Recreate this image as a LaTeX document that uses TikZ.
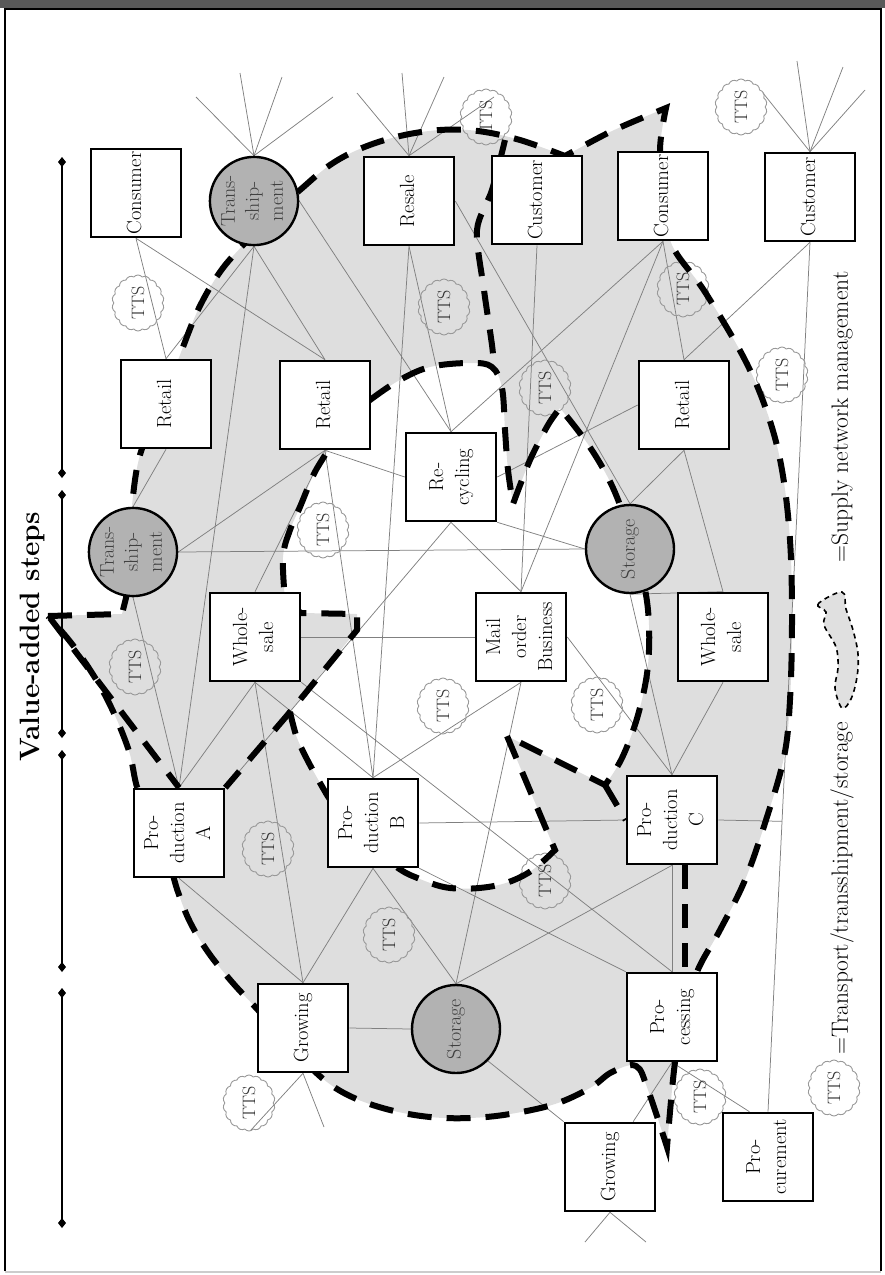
\documentclass[tikz,border=0pt]{standalone}
\usepackage{graphicx}
\usetikzlibrary{shapes.symbols,arrows.meta,calc}
\pgfdeclarelayer{bg}
\pgfsetlayers{bg,main}
\newcommand{\rtx}[1]{\rotatebox{90}{\begin{tabular}{@{}c@{}}#1\end{tabular}}}
\def\outerpath{(48,616) -- (122,614) -- (126,598)
 -- plot[smooth,tension=0.6] coordinates {(126,598) (129,550) (132,505) (140,455) (160,405) (178,360) (198,310) (220,272) (245,243) (275,212) (300,190) (330,165) (362,148) (400,136) (440,130) (478,131) (520,140) (565,156)}
 -- plot[smooth] coordinates {(565,156) (612,131) (666,108)}
 -- plot[smooth,tension=0.6] coordinates {(666,108) (660,150) (665,200) (672,245) (705,292) (745,360) (768,415) (782,470) (790,540) (792,620) (790,700) (784,757) (766,820) (745,880) (720,930) (697,972) (684,1020) (675,1062) (667,1147)}
 -- plot[smooth,tension=0.6] coordinates {(667,1147) (648,1090) (636,1066) (612,1072) (590,1088) (555,1104) (510,1114) (470,1118) (430,1117) (390,1110) (352,1097) (322,1078) (290,1045) (258,1010) (232,982) (208,952) (190,922) (178,892) (170,865) (155,820) (138,790) (128,748) (105,695) (75,648) (48,616)}
 -- cycle}
\def\holepath{(370,400)
 -- plot[smooth,tension=0.6] coordinates {(370,400) (398,381) (430,367) (470,363) (492,367) (502,388) (505,430) (508,470) (513,504)}
 -- plot[smooth] coordinates {(513,504) (530,460) (548,425) (560,408)}
 -- plot[smooth,tension=0.6] coordinates {(560,408) (585,440) (605,472) (620,505) (638,560) (648,610) (648,665) (638,715) (622,758) (605,785)}
 -- (507,736) -- (555,850)
 -- plot[smooth,tension=0.6] coordinates {(555,850) (528,873) (494,886) (450,888) (415,877) (395,866) (360,840) (327,795)}
 -- plot[smooth] coordinates {(327,795) (310,765) (297,738) (290,712)}
 -- (357,630) -- (357,614) -- (301,613) -- (285,600)
 -- plot[smooth,tension=0.6] coordinates {(285,600) (283,557) (290,530) (300,507) (312,478) (322,460) (345,425) (370,400)}
 -- cycle}
\begin{document}
\begin{tikzpicture}[x=1pt,y=-1pt,
  box/.style={draw, line width=2.6pt, fill=white, minimum width=90pt, minimum height=88pt, inner sep=0pt, font=\fontsize{20.5}{26}\selectfont},
  hub/.style={circle, draw, line width=2.4pt, fill=black!30, minimum size=88pt, inner sep=0pt, text=black!75, font=\fontsize{20}{24}\selectfont},
  tts/.style={cloud, cloud puffs=18, cloud puff arc=100, aspect=1, draw=black!40, line width=0.9pt, minimum width=52pt, minimum height=56pt, inner sep=0pt, text=black!80, font=\fontsize{18}{20}\selectfont},
  conn/.style={draw=black!50, line width=0.75pt},
  snm/.style={line width=6pt, dash pattern=on 24pt off 15pt},
  axisseg/.style={line width=2.5pt, {Diamond[length=10pt,width=8pt]}-{Diamond[length=10pt,width=8pt]}},
  legtext/.style={rotate=90, font=\fontsize{23.5}{28}\selectfont}]
\useasboundingbox (0,0) rectangle (885,1275);
% frame
\fill[black!65] (0,0) rectangle (885,8);
\draw[line width=2pt] (4.5,1271) -- (4.5,9) -- (880.5,9) -- (880.5,1271);
\draw[black!20, line width=1.5pt] (4.5,1272) -- (880.5,1272);
% axis
\coordinate (a1) at (62,157); \coordinate (a2) at (62,478);
\coordinate (a3) at (62,490); \coordinate (a4) at (62,738);
\coordinate (a5) at (62,750); \coordinate (a6) at (62,972);
\coordinate (a7) at (62,988); \coordinate (a8) at (62,1228);
\draw[axisseg] (a1) -- (a2);
\draw[axisseg] (a3) -- (a4);
\draw[axisseg] (a5) -- (a6);
\draw[axisseg] (a7) -- (a8);
\node[rotate=90, font=\fontsize{28}{32}\selectfont\bfseries] (vas) at (32,637) {Value-added steps};
% nodes
\node[box] (consL) at (136,193) {\rtx{Consumer}};
\node[hub] (transT) at (254,201) {\rtx{Trans-\\ship-\\ment}};
\node[box] (resale) at (409,201) {\rtx{Resale}};
\node[box] (custM) at (537,200) {\rtx{Customer}};
\node[box] (consR) at (663,196) {\rtx{Consumer}};
\node[box] (custR) at (810,197) {\rtx{Customer}};
\node[box] (retL) at (166,404) {\rtx{Retail}};
\node[box] (retM) at (325,405) {\rtx{Retail}};
\node[box] (recyc) at (451,477) {\rtx{Re-\\cycling}};
\node[box] (retR) at (684,405) {\rtx{Retail}};
\node[hub] (transL) at (133,552) {\rtx{Trans-\\ship-\\ment}};
\node[hub] (storR) at (630,549) {\rtx{Storage}};
\node[box] (wsL) at (255,637) {\rtx{Whole-\\sale}};
\node[box] (mail) at (521,637) {\rtx{Mail\\order\\Business}};
\node[box] (wsR) at (723,637) {\rtx{Whole-\\sale}};
\node[box] (prodA) at (179,833) {\rtx{Pro-\\duction\\A}};
\node[box] (prodB) at (373,823) {\rtx{Pro-\\duction\\B}};
\node[box] (prodC) at (672,820) {\rtx{Pro-\\duction\\C}};
\node[box] (growL) at (303,1028) {\rtx{Growing}};
\node[hub] (storB) at (456,1029) {\rtx{Storage}};
\node[box] (proc) at (672,1017) {\rtx{Pro-\\cessing}};
\node[box] (growB) at (610,1167) {\rtx{Growing}};
\node[box] (procur) at (768,1157) {\rtx{Pro-\\curement}};
% fan ends
\coordinate (fa1) at (196,97); \coordinate (fa2) at (240,73); \coordinate (fa3) at (282,77); \coordinate (fa4) at (333,97);
\coordinate (fb1) at (357,93); \coordinate (fb2) at (402,73); \coordinate (fb3) at (444,77); \coordinate (fb4) at (494,97);
\coordinate (fc1) at (763,93); \coordinate (fc2) at (797,61); \coordinate (fc3) at (843,67); \coordinate (fc4) at (865,90);
\coordinate (fd1) at (585,1242); \coordinate (fd2) at (646,1242);
\coordinate (fe1) at (251,1130); \coordinate (fe2) at (324,1127);
\coordinate (stubC) at ($(custR.south)!0.666!(procur.north)$);
\begin{pgfonlayer}{bg}
\fill[black!13, even odd rule] \outerpath \holepath;
% thin connectors
\foreach \e in {fa1,fa2,fa3,fa4} \draw[conn] (transT.north) -- (\e);
\foreach \e in {fb1,fb2,fb3,fb4} \draw[conn] (resale.north) -- (\e);
\foreach \e in {fc1,fc2,fc3,fc4} \draw[conn] (custR.north) -- (\e);
\foreach \e in {fd1,fd2} \draw[conn] (growB.south) -- (\e);
\foreach \e in {fe1,fe2} \draw[conn] (growL.south) -- (\e);
\draw[conn] (consL.south) -- (retL.north);
\draw[conn] (consL.south) -- (retM.north);
\draw[conn] (transT.south) -- (retL.north);
\draw[conn] (transT.south) -- (prodA.north);
\draw[conn] (transT.south) -- (retM.north);
\draw[conn] (transT.east) -- (recyc.north);
\draw[conn] (resale.south) -- (prodB.north);
\draw[conn] (resale.south) -- (recyc.north);
\draw[conn] (resale.east) -- (storR.north);
\draw[conn] (custM.south) -- (mail.north);
\draw[conn] (consR.south) -- (retR.north);
\draw[conn] (consR.south) -- (mail.north);
\draw[conn] (consR.south) -- (recyc.north);
\draw[conn] (custR.south) -- (retR.north);
\draw[conn] (custR.south) -- (procur.north);
\draw[conn] (retL.south) -- (transL.north);
\draw[conn] (retM.south) -- (transL.east);
\draw[conn] (retM.south) -- (recyc.west);
\draw[conn] (retM.south) -- (wsL.north);
\draw[conn] (retM.south) -- (prodB.north);
\draw[conn] (retR.south) -- (storR.north);
\draw[conn] (retR.south) -- (wsR.north);
\draw[conn] (retR.west) -- (recyc.east);
\draw[conn] (recyc.south east) -- (storR.west);
\draw[conn] (recyc.south) -- (mail.north);
\draw[conn] (recyc.south) -- (prodA.north east);
\draw[conn] (transL.east) -- (storR.west);
\draw[conn] (transL.south) -- (prodA.north);
\draw[conn] (wsL.east) -- (mail.west);
\draw[conn] (wsL.south) -- (prodA.north);
\draw[conn] (wsL.south) -- (prodB.north);
\draw[conn] (wsL.south) -- (growL.north);
\draw[conn] (wsL.south east) -- (proc.north);
\draw[conn] (mail.south) -- (prodB.north);
\draw[conn] (mail.south) -- (storB.north);
\draw[conn] (mail.east) -- (prodC.north);
\draw[conn] (storR.south) -- (prodC.north);
\draw[conn] (storR.south) -- (wsR.north);
\draw[conn] (wsR.south) -- (prodC.north);
\draw[conn] (prodB.east) -- (prodC.west);
\draw[conn] (prodB.south) -- (growL.north);
\draw[conn] (prodB.south) -- (storB.north);
\draw[conn] (prodB.south east) -- (proc.north west);
\draw[conn] (prodC.east) -- (stubC);
\draw[conn] (prodC.south) -- (storB.north);
\draw[conn] (prodC.south) -- (proc.north);
\draw[conn] (prodA.south) -- (growL.north);
\draw[conn] (growL.east) -- (storB.west);
\draw[conn] (storB.south east) -- (growB.north west);
\draw[conn] (proc.south) -- ($(growB.north)!0.5!(growB.north east)$);
\draw[conn] (proc.south) -- ($(procur.north west)!0.3!(procur.north east)$);
% TTS clouds
\node[tts] (t1) at (486,117) {\rotatebox{90}{TTS}};
\node[tts] (t2) at (741,107) {\rotatebox{90}{TTS}};
\node[tts] (t3) at (138,303) {\rotatebox{90}{TTS}};
\node[tts] (t4) at (444,307) {\rotatebox{90}{TTS}};
\node[tts] (t5) at (683,289) {\rotatebox{90}{TTS}};
\node[tts] (t6) at (545,388) {\rotatebox{90}{TTS}};
\node[tts] (t7) at (323,530) {\rotatebox{90}{TTS}};
\node[tts] (t8) at (782,375) {\rotatebox{90}{TTS}};
\node[tts] (t9) at (135,667) {\rotatebox{90}{TTS}};
\node[tts] (t10) at (443,706) {\rotatebox{90}{TTS}};
\node[tts] (t11) at (597,705) {\rotatebox{90}{TTS}};
\node[tts] (t12) at (268,849) {\rotatebox{90}{TTS}};
\node[tts] (t13) at (545,881) {\rotatebox{90}{TTS}};
\node[tts] (t14) at (389,935) {\rotatebox{90}{TTS}};
\node[tts] (t15) at (249,1103) {\rotatebox{90}{TTS}};
\node[tts] (t16) at (700,1097) {\rotatebox{90}{TTS}};
% supply network management outlines
\draw[snm] \outerpath;
\draw[snm] \holepath;
\draw[snm] plot[smooth] coordinates {(505,140) (492,190) (477,230) (484,290) (492,345) (494,367)};
\draw[snm] (50,618) -- (prodA.north);
\draw[snm] (290,712) -- (prodA.north east);
\draw[snm] (605,785) -- (prodC.west);
\draw[snm] ($(prodC.south)+(13,0)$) -- ($(proc.north)+(13,0)$);
\end{pgfonlayer}
% legend
\node[tts] (tl) at (834,1088) {\rotatebox{90}{TTS}};
\node[legtext] (lt1) at (842,888) {=Transport/transshipment/storage};
\node[legtext] (lt2) at (842,417) {=Supply network management};
\filldraw[fill=black!12, line width=1.6pt, dash pattern=on 5pt off 4pt]
  plot[smooth cycle, tension=0.6] coordinates {(842,592) (818,604) (826,612) (824,625) (836,647) (838,668) (835,688) (842,708) (851,699) (857,677) (858,654) (853,630) (846,609)};
\end{tikzpicture}
\end{document}
